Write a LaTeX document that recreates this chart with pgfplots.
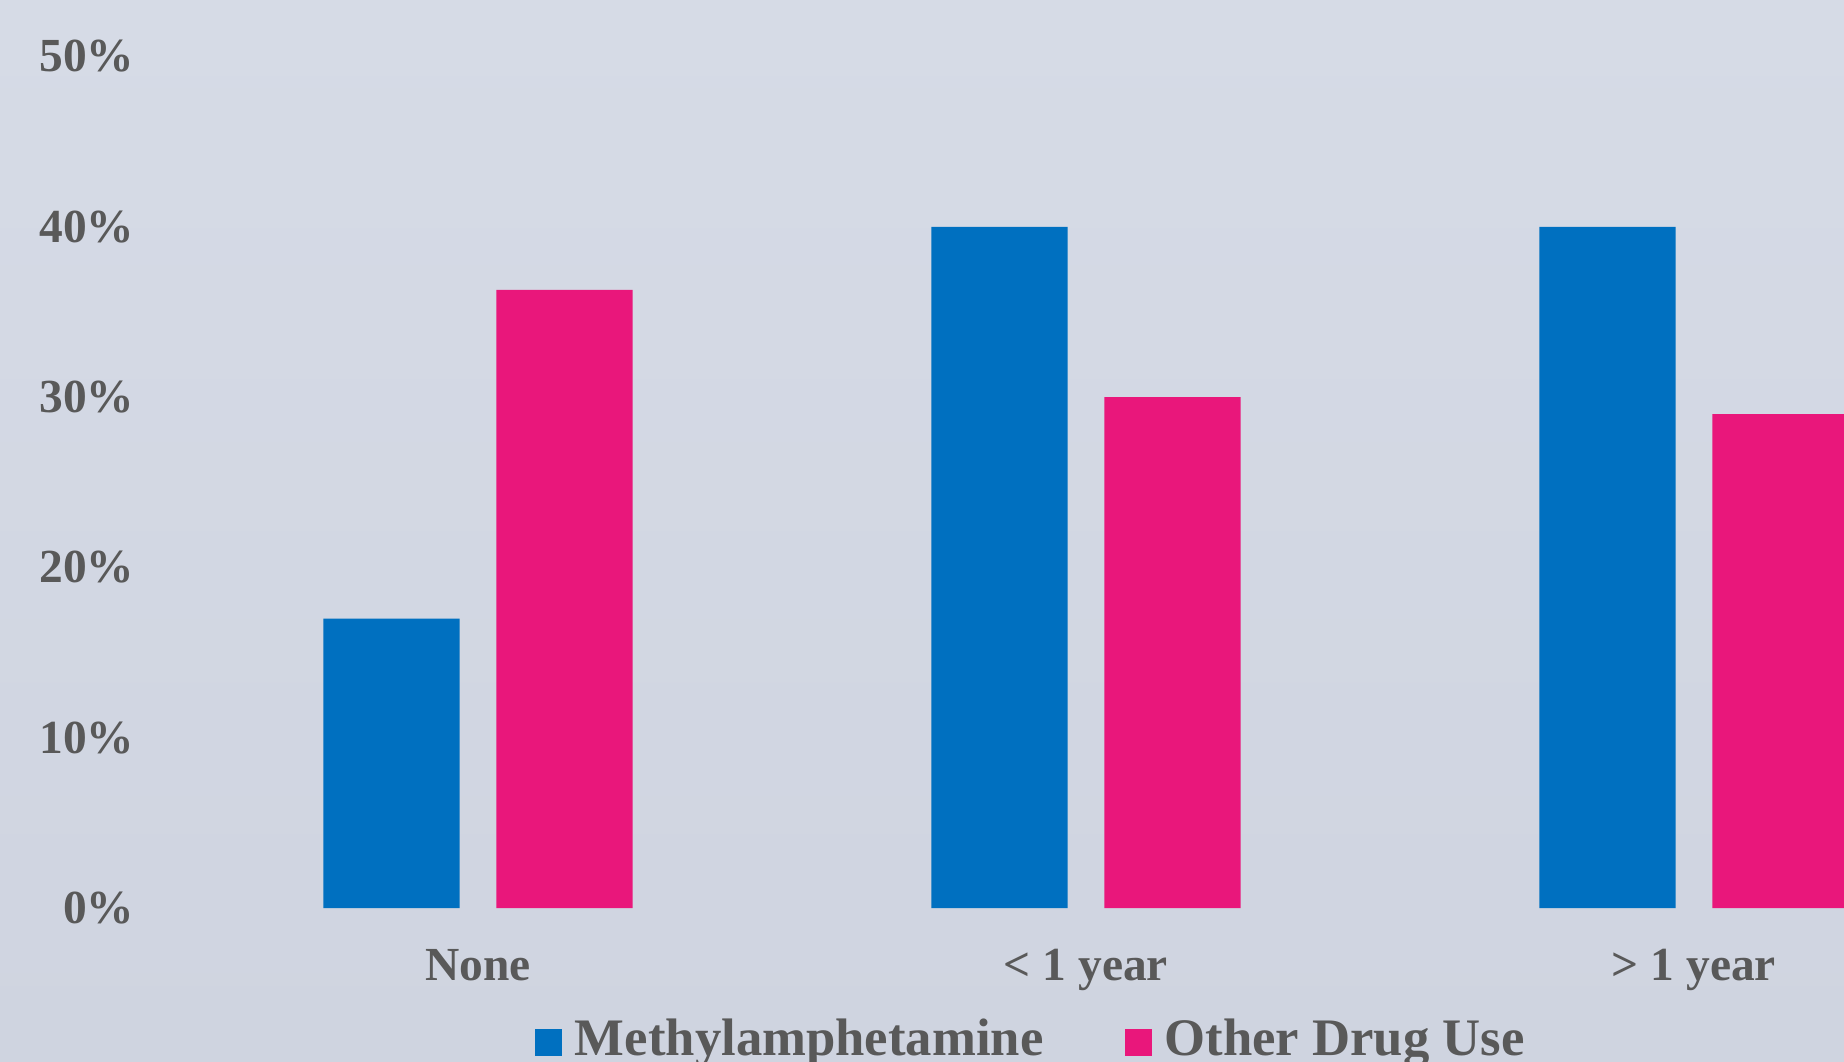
\documentclass[border=0pt]{standalone}
\usepackage{pgfplots}
\pgfplotsset{compat=1.18}
\usepackage{fontspec}
\setmainfont{Liberation Serif}
\definecolor{bgtop}{RGB}{214,219,230}
\definecolor{bgbot}{RGB}{207,212,224}
\definecolor{mblue}{RGB}{0,112,192}
\definecolor{mpink}{RGB}{233,23,123}
\definecolor{txt}{RGB}{89,89,89}
\begin{document}
\begin{tikzpicture}
\useasboundingbox (0,0) rectangle (18.44cm,10.61cm);
\clip (0,0) rectangle (18.44cm,10.61cm);
\shade[top color=bgtop,bottom color=bgbot] (0,0) rectangle (18.44cm,10.61cm);
\begin{axis}[
  at={(1.74cm,1.53cm)}, anchor=south west,
  scale only axis, width=18.24cm, height=8.515cm,
  xmin=-0.5, xmax=2.5, ymin=0, ymax=50,
  ybar,
  axis line style={draw=none}, major tick length=0pt,
  xtick={0,1,2}, xticklabels={None,{< 1 year},{> 1 year}},
  ytick={0,10,20,30,40,50},
  yticklabel={\pgfmathprintnumber[assume math mode=true]{\tick}\%},
  yticklabel style={anchor=east, inner sep=0pt, xshift=-0.39cm, font=\fontsize{13.5}{16}\selectfont\bfseries, text=txt},
  xticklabel style={anchor=base, inner sep=0pt, yshift=-0.72cm, font=\fontsize{13.5}{16}\selectfont\bfseries, text=txt},
  legend image code/.code={\fill[#1] (0cm,-0.16cm) rectangle (0.27cm,0.11cm);},
  legend columns=2,
  legend cell align=left,
  legend style={at={(axis description cs:0.1979,-0.1304)}, anchor=north west,
    draw=none, fill=none, inner sep=0pt, outer sep=0pt,
    nodes={inner sep=0pt},
    font=\fontsize{15}{18}\selectfont\bfseries, text=txt,
    /tikz/every odd column/.append style={column sep=0.13cm},
    /tikz/every even column/.append style={column sep=0.81cm}},
]
\addplot[fill=mblue, draw=none, bar width=1.364cm, bar shift=-0.865cm] coordinates {(0,17) (1,40) (2,40)};
\addplot[fill=mpink, draw=none, bar width=1.364cm, bar shift=0.865cm] coordinates {(0,36.3) (1,30) (2,29)};
\legend{Methylamphetamine, Other Drug Use}
\end{axis}
\end{tikzpicture}
\end{document}
